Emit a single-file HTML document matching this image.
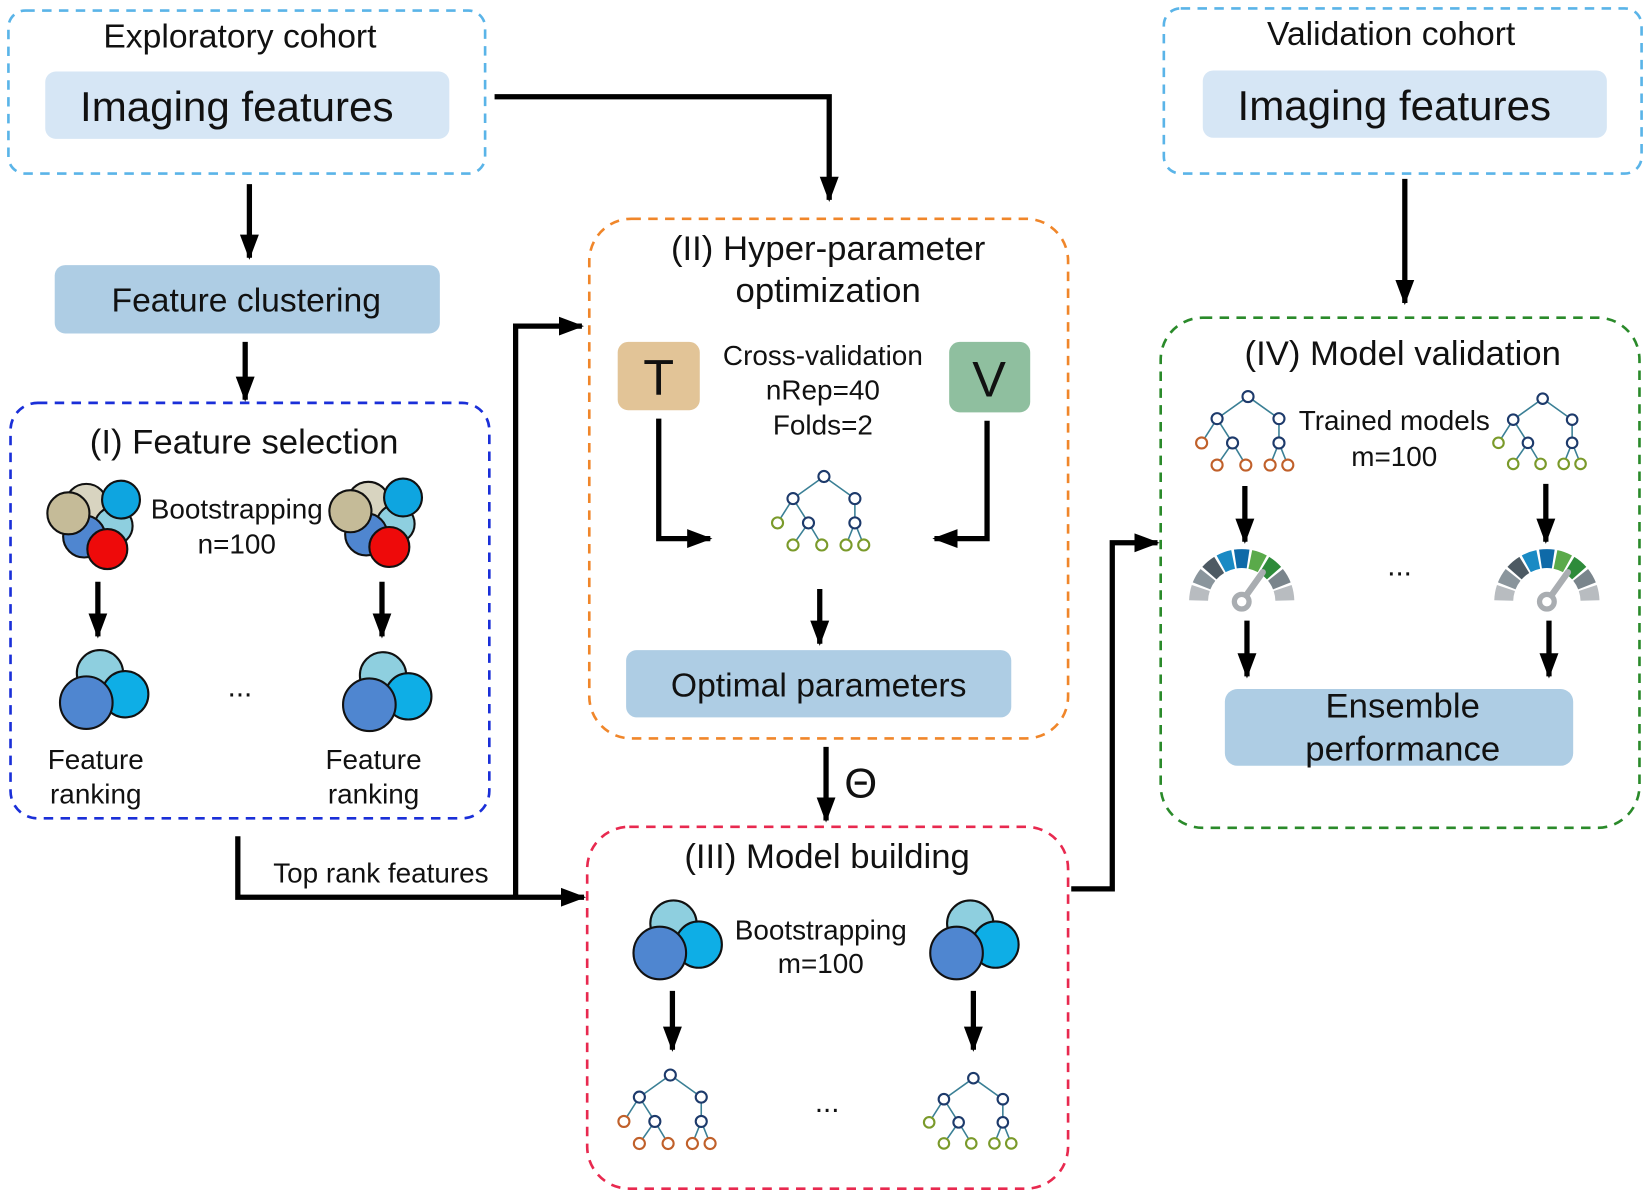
<!DOCTYPE html>
<html><head><meta charset="utf-8"><style>
html,body{margin:0;padding:0;background:#fff;width:1650px;height:1196px;overflow:hidden}
svg{display:block}
text{font-family:"Liberation Sans",sans-serif;fill:#111}
</style></head><body>
<svg id="s" width="1650" height="1196" viewBox="0 0 1568 1137" preserveAspectRatio="none" xmlns="http://www.w3.org/2000/svg">
<defs>
<marker id="ah" markerUnits="userSpaceOnUse" markerWidth="24" markerHeight="20" refX="22" refY="10" orient="auto">
<path d="M0,1 L24,10 L0,19 Z" fill="#000"/></marker>
</defs>
<g fill="none" stroke-dasharray="9,7" stroke-width="2.5">
<rect x="8" y="10" width="453" height="155" rx="16" stroke="#5ab4e8"/>
<rect x="1106" y="8" width="454" height="157" rx="16" stroke="#5ab4e8"/>
<rect x="10" y="383" width="455" height="395" rx="26" stroke="#1a2fd8"/>
<rect x="560" y="208" width="455" height="494" rx="40" stroke="#f0862a"/>
<rect x="558" y="786" width="457" height="344" rx="40" stroke="#e8294f"/>
<rect x="1103" y="302" width="455" height="485" rx="40" stroke="#2a8a2a"/>
</g>
<rect x="43" y="68" width="384" height="64" rx="10" fill="#d6e6f5"/>
<rect x="1143" y="67" width="384" height="64" rx="10" fill="#d6e6f5"/>
<rect x="52" y="252" width="366" height="65" rx="10" fill="#aecde4"/>
<rect x="595" y="618" width="366" height="64" rx="10" fill="#aecde4"/>
<rect x="1164" y="655" width="331" height="73" rx="12" fill="#aecde4"/>
<rect x="587" y="325" width="78" height="65" rx="10" fill="#e2c497"/>
<rect x="902" y="325" width="77" height="67" rx="10" fill="#8fbf9f"/>
<g text-anchor="middle">
<text x="228" y="45" font-size="32">Exploratory cohort</text>
<text x="225" y="115" font-size="40">Imaging features</text>
<text x="1322" y="43" font-size="32">Validation cohort</text>
<text x="1325" y="114" font-size="40">Imaging features</text>
<text x="234" y="296" font-size="32">Feature clustering</text>
<text x="232" y="431" font-size="33">(I) Feature selection</text>
<text x="225" y="493" font-size="26.5">Bootstrapping</text>
<text x="225" y="526" font-size="26.5">n=100</text>
<text x="228" y="662" font-size="28">...</text>
<text x="91" y="731" font-size="26.5">Feature</text>
<text x="91" y="764" font-size="26.5">ranking</text>
<text x="355" y="731" font-size="26.5">Feature</text>
<text x="355" y="764" font-size="26.5">ranking</text>
<text x="362" y="839" font-size="26.5">Top rank features</text>
<text x="787" y="247" font-size="33">(II) Hyper-parameter</text>
<text x="787" y="287" font-size="33">optimization</text>
<text x="626" y="375" font-size="48">T</text>
<text x="940" y="377" font-size="48">V</text>
<text x="782" y="347" font-size="26.5">Cross-validation</text>
<text x="782" y="380" font-size="26.5">nRep=40</text>
<text x="782" y="413" font-size="26.5">Folds=2</text>
<text x="778" y="662" font-size="32">Optimal parameters</text>
<text x="818" y="758" font-size="40">Θ</text>
<text x="786" y="825" font-size="33">(III) Model building</text>
<text x="780" y="893" font-size="26.5">Bootstrapping</text>
<text x="780" y="925" font-size="26.5">m=100</text>
<text x="786" y="1057" font-size="28">...</text>
<text x="1333" y="347" font-size="33">(IV) Model validation</text>
<text x="1325" y="409" font-size="26.5">Trained models</text>
<text x="1325" y="443" font-size="26.5">m=100</text>
<text x="1330" y="547" font-size="28">...</text>
<text x="1333" y="682" font-size="33">Ensemble</text>
<text x="1333" y="723" font-size="33">performance</text>
</g>
<g stroke="#000" stroke-width="5" fill="none" marker-end="url(#ah)">
<path d="M237,175 V245"/>
<path d="M233,325 V380"/>
<path d="M93,553 V605"/>
<path d="M363,553 V605"/>
<path d="M226,795 V853 H555"/>
<path d="M490,853 V310 H553"/>
<path d="M470,92 H788 V190"/>
<path d="M626,398 V512 H675"/>
<path d="M938,400 V512 H888"/>
<path d="M779,560 V612"/>
<path d="M785,710 V780"/>
<path d="M639,942 V998"/>
<path d="M925,942 V998"/>
<path d="M1018,845 H1057 V516 H1100"/>
<path d="M1335,170 V288"/>
<path d="M1183,462 V515"/>
<path d="M1469,460 V515"/>
<path d="M1185,590 V643"/>
<path d="M1472,590 V643"/>
</g>
<g id="dyn"></g>
</svg>
<script>
var NS="http://www.w3.org/2000/svg",g=document.getElementById("dyn");
function el(t,a){var e=document.createElementNS(NS,t);for(var k in a)e.setAttribute(k,a[k]);g.appendChild(e);return e;}
function circ(x,y,r,f){el("circle",{cx:x,cy:y,r:r,fill:f,stroke:"#111","stroke-width":2});}
function topCl(dx,dy){var c=[[82,480,20,"#d8d4c0"],[108,500,18,"#8ecfdf"],[80,510,20,"#4f86d0"],[65,488,20,"#c5bb98"],[115,475,18,"#0ea5e0"],[102,522,19,"#ee0a0a"]];c.forEach(function(a){circ(a[0]+dx,a[1]+dy,a[2],a[3]);});}
function botCl(dx,dy){var c=[[95,640,22,"#8ecfdf"],[119,660,22,"#0eaee6"],[82,668,25,"#4f86d0"]];c.forEach(function(a){circ(a[0]+dx,a[1]+dy,a[2],a[3]);});}
topCl(0,0);topCl(268,-2);botCl(0,0);botCl(269,2);
botCl(545,238);botCl(827,238);
function tree(x,y,col,s){s=s||1;
var n=[[0,0,0],[-28,20,0],[28,20,0],[-42,42,1],[-14,42,0],[28,42,0],[-28,62,1],[-2,62,1],[20,62,1],[36,62,1]];
var e=[[0,1],[0,2],[1,3],[1,4],[2,5],[4,6],[4,7],[5,8],[5,9]];
e.forEach(function(p){var a=n[p[0]],b=n[p[1]];el("line",{x1:x+a[0]*s,y1:y+a[1]*s,x2:x+b[0]*s,y2:y+b[1]*s,stroke:"#3a7f95","stroke-width":1.5});});
n.forEach(function(p){el("circle",{cx:x+p[0]*s,cy:y+p[1]*s,r:5*s,fill:"#fff",stroke:p[2]?col:"#1d3a6b","stroke-width":2});});}
tree(783,453,"#7a9a2a",1.05);tree(1186,377,"#c0602a",1.05);tree(1466,379,"#7a9a2a");
tree(637,1022,"#c0602a",1.05);tree(925,1025,"#7a9a2a");
function gauge(cx,cy){var cols=["#b8bcc0","#8a959c","#4d5a63","#1a8ac4","#0f6aa8","#5aaa4a","#2e8b3a","#7a858c","#b8bcc0"];var r=41,N=9,w=180/N;
for(var i=0;i<N;i++){var a1=(180-i*w-1.5)*Math.PI/180,a2=(180-(i+1)*w+1.5)*Math.PI/180;
el("path",{d:"M"+(cx+r*Math.cos(a1))+","+(cy-r*Math.sin(a1))+" A"+r+","+r+" 0 0 1 "+(cx+r*Math.cos(a2))+","+(cy-r*Math.sin(a2)),stroke:cols[i],"stroke-width":18,fill:"none"});}
el("line",{x1:cx,y1:cy,x2:cx+20,y2:cy-28,stroke:"#a9adb1","stroke-width":6,"stroke-linecap":"round"});
el("circle",{cx:cx,cy:cy,r:7,fill:"#fff",stroke:"#a9adb1","stroke-width":5});}
gauge(1180,572);gauge(1470,572);
</script>
</body></html>
